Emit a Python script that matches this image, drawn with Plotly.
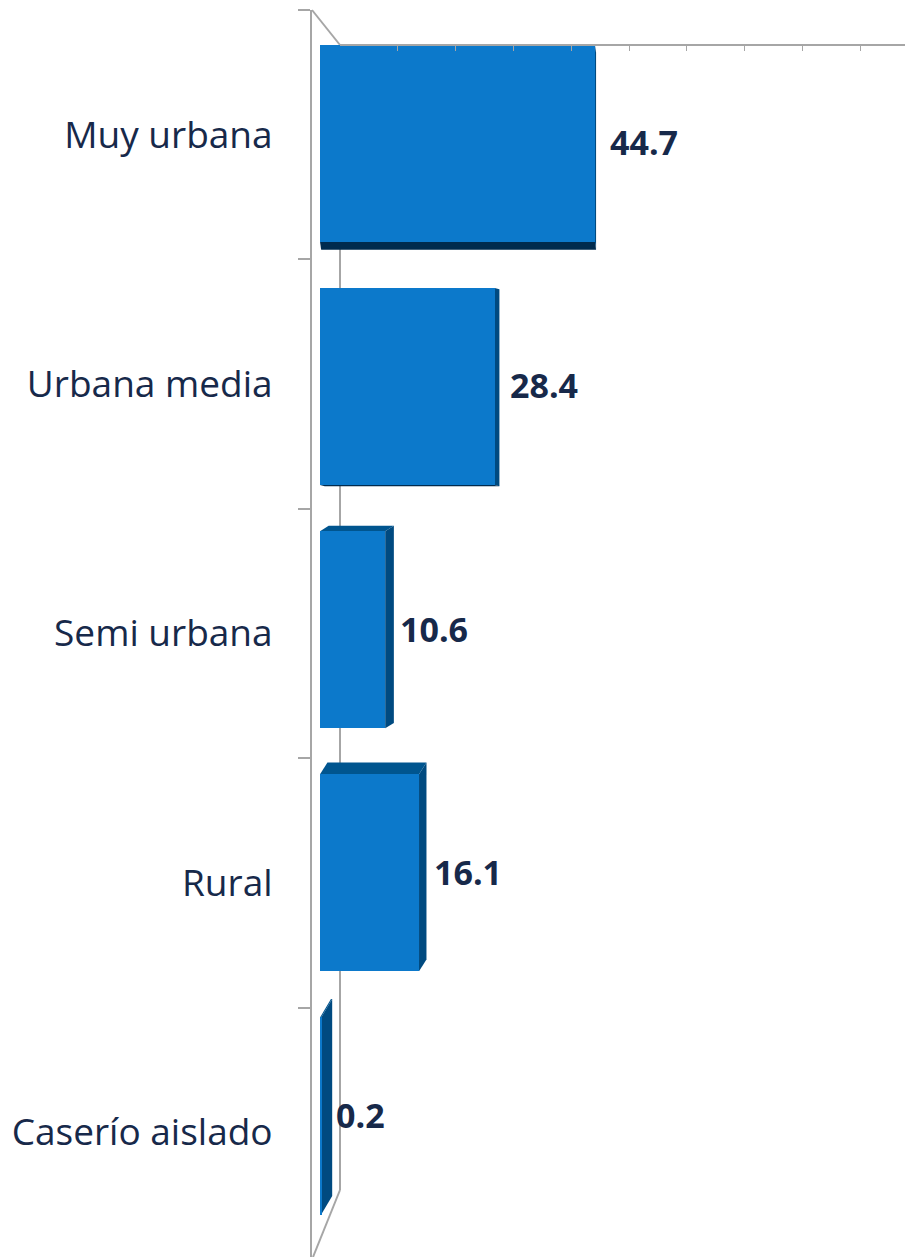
import plotly.graph_objects as go

categories = ["Muy urbana", "Urbana media", "Semi urbana", "Rural", "Caserío aislado"]
values = [44.7, 28.4, 10.6, 16.1, 0.2]

# page has an 8px body margin, so everything below is in page pixels minus OFF
OFF = 8
W, H = 913 - OFF, 1257 - OFF
ML = 312 - OFF
MT = 10 - OFF
PX_PER_UNIT = 6.15           # front plane scale
X0_PX = 320 - OFF            # value 0 on the front plane
BACK_X0_PX = 340 - OFF       # value 0 on the back wall
BACK_PX_PER_UNIT = 5.78
TOP_WALL_PX = 45 - OFF
BACK_BOTTOM_PX = 1190 - OFF
BAR_W = 0.79
# fake perspective: bars pulled toward a centre line, faces fan out from an eye line
PULL_Y, PULL_K = 480 - OFF, 0.025
EYE_Y, EYE_K = 436 - OFF, 0.0273

FRONT = "#0C79CB"
SIDE = "#004A80"
TOPFACE = "#00558F"
BOTTOMFACE = "#002B4E"
LABEL = "#17294A"
WALL = "#A6A6A6"

plot_w = W - ML
plot_h = H - MT
band_px = plot_h / len(categories)
x_lo = -(X0_PX - ML) / PX_PER_UNIT
x_hi = (W - X0_PX) / PX_PER_UNIT


def px_x(px):
    return (px - ML) / plot_w


def px_y(px):
    return 1 - (px - MT) / plot_h


# per-bar vertical pull (pixels, positive = down)
pull_px = [(PULL_Y - (MT + band_px * (i + 0.5))) * PULL_K for i in range(len(categories))]
offsets = [-BAR_W / 2 + p / band_px for p in pull_px]

fig = go.Figure()

# invisible trace so the back-wall axis gets drawn
fig.add_trace(
    go.Scatter(x=[0], y=[categories[0]], xaxis="x2", mode="markers",
               marker=dict(opacity=0), hoverinfo="skip", showlegend=False)
)

fig.add_trace(
    go.Bar(
        x=values,
        y=categories,
        orientation="h",
        width=BAR_W,
        offset=offsets,
        marker=dict(color=FRONT, line=dict(width=0)),
        hoverinfo="skip",
        showlegend=False,
    )
)

# fake 3D faces, built from the data values
shapes = []
for i, v in enumerate(values):
    dx = max(1.0, 11 - 0.22 * v) / PX_PER_UNIT
    yt = i + offsets[i]
    yb = yt + BAR_W
    yc_px = MT + band_px * (i + 0.5) + pull_px[i]
    dy = (EYE_Y - yc_px) * EYE_K / band_px
    side = f"M {v},{yt} L {v+dx},{yt+dy} L {v+dx},{yb+dy} L {v},{yb} Z"
    shapes.append(dict(type="path", path=side, xref="x", yref="y",
                       fillcolor=SIDE, line=dict(width=0), layer="below"))
    if dy > 0:
        face = f"M 0,{yb} L {v},{yb} L {v+dx},{yb+dy} L {dx},{yb+dy} Z"
        shapes.append(dict(type="path", path=face, xref="x", yref="y",
                           fillcolor=BOTTOMFACE, line=dict(width=0), layer="below"))
    else:
        face = f"M 0,{yt} L {v},{yt} L {v+dx},{yt+dy} L {dx},{yt+dy} Z"
        shapes.append(dict(type="path", path=face, xref="x", yref="y",
                           fillcolor=TOPFACE, line=dict(width=0), layer="below"))

# walls
wall = dict(color=WALL, width=2)
shapes += [
    dict(type="line", xref="paper", yref="paper", x0=px_x(ML), y0=px_y(MT),
         x1=px_x(BACK_X0_PX), y1=px_y(TOP_WALL_PX), line=wall, layer="below"),
    dict(type="line", xref="paper", yref="paper", x0=px_x(BACK_X0_PX), y0=px_y(TOP_WALL_PX),
         x1=px_x(BACK_X0_PX), y1=px_y(BACK_BOTTOM_PX), line=wall, layer="below"),
    dict(type="line", xref="paper", yref="paper", x0=px_x(BACK_X0_PX), y0=px_y(BACK_BOTTOM_PX),
         x1=px_x(ML + 1), y1=px_y(H), line=wall, layer="below"),
]

annotations = []
for i, v in enumerate(values):
    annotations.append(dict(
        x=v, y=categories[i], xref="x", yref="y",
        text=f"<b>{v:.1f}</b>", showarrow=False,
        xanchor="left", xshift=13, yshift=1 - pull_px[i],
        font=dict(family="Open Sans", size=34, color=LABEL),
    ))

fig.update_layout(
    width=W,
    height=H,
    margin=dict(l=ML, r=0, t=MT, b=0),
    paper_bgcolor="white",
    plot_bgcolor="rgba(0,0,0,0)",
    bargap=0,
    font=dict(family="Open Sans", color=LABEL),
    xaxis=dict(range=[x_lo, x_hi], visible=False, fixedrange=True),
    xaxis2=dict(
        anchor="free",
        side="top",
        position=px_y(TOP_WALL_PX),
        domain=[px_x(BACK_X0_PX), 1],
        range=[0, (W - BACK_X0_PX) / BACK_PX_PER_UNIT],
        dtick=10,
        showline=True,
        linecolor=WALL,
        linewidth=2,
        ticks="inside",
        ticklen=5,
        tickcolor=WALL,
        tickwidth=1,
        showticklabels=False,
        showgrid=False,
        zeroline=False,
        fixedrange=True,
    ),
    yaxis=dict(
        categoryorder="array",
        categoryarray=categories,
        autorange="reversed",
        tickson="boundaries",
        ticks="outside",
        ticklen=12,
        tickcolor=WALL,
        tickwidth=2,
        showline=True,
        linecolor=WALL,
        linewidth=2,
        showgrid=False,
        automargin=False,
        ticklabelstandoff=30,
        tickfont=dict(family="Open Sans", size=37, color=LABEL),
    ),
    shapes=shapes,
    annotations=annotations,
)

fig.write_html("out.html")
